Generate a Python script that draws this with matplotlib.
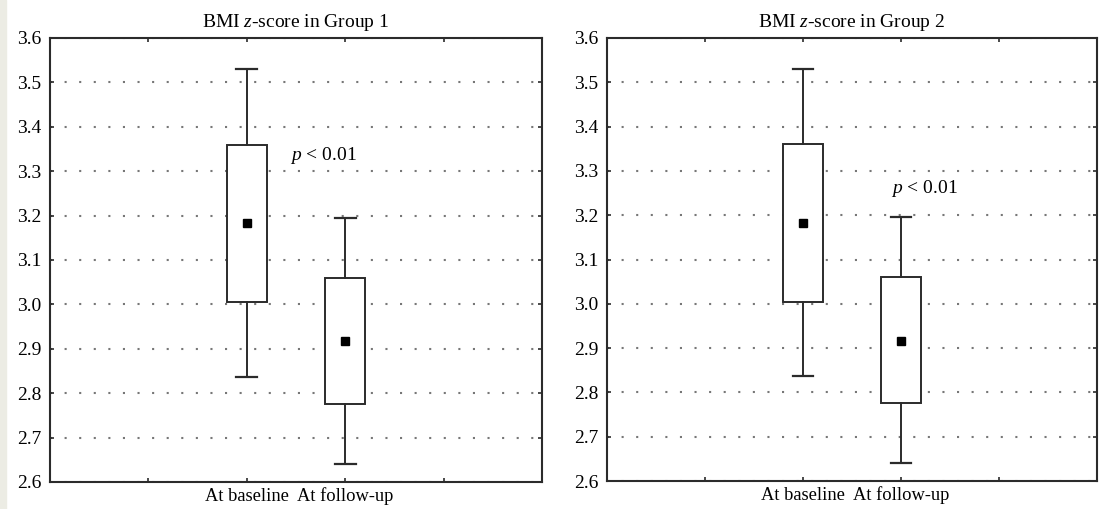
import matplotlib
matplotlib.use("Agg")
import matplotlib.pyplot as plt
from matplotlib.patches import Rectangle

plt.rcParams['font.family'] = ['Liberation Serif', 'DejaVu Serif']
plt.rcParams['mathtext.fontset'] = 'custom'
plt.rcParams['mathtext.rm'] = 'Liberation Serif'
plt.rcParams['mathtext.it'] = 'Liberation Serif:italic'

# data
groups = ["Group 1", "Group 2"]
labels = ["At baseline", "At follow-up"]
means = [[3.183, 2.917], [3.183, 2.917]]
q_low = [[3.005, 2.775], [3.005, 2.775]]
q_high = [[3.36, 3.06], [3.36, 3.06]]
wh_low = [[2.836, 2.64], [2.838, 2.64]]
wh_high = [[3.53, 3.195], [3.53, 3.195]]
p_text = "$p$ < 0.01"
p_pos = [(2.78, 3.335), (3.24, 3.26)]

ink = '#2b2b2b'
fig = plt.figure(figsize=(11.01, 5.09), dpi=100)
fig.patches.append(Rectangle((0, 0), 6 / 1101, 1, transform=fig.transFigure,
                             color='#ecece4', zorder=0))

rects = [[50 / 1101, 27 / 509, 492 / 1101, 444 / 509],
         [607 / 1101, 28 / 509, 490 / 1101, 443 / 509]]

for g in range(2):
    ax = fig.add_axes(rects[g])
    stats = []
    for i in range(2):
        stats.append(dict(med=means[g][i], q1=q_low[g][i], q3=q_high[g][i],
                          whislo=wh_low[g][i], whishi=wh_high[g][i],
                          mean=means[g][i], label=labels[i]))
    ax.bxp(stats, positions=[2, 3], widths=0.41, showmeans=True,
           patch_artist=True, showfliers=False,
           boxprops=dict(facecolor='white', edgecolor=ink, linewidth=1.4),
           whiskerprops=dict(color=ink, linewidth=1.4),
           capprops=dict(color=ink, linewidth=1.6),
           medianprops=dict(linewidth=0),
           meanprops=dict(marker='s', markerfacecolor='black',
                          markeredgecolor='black', markersize=6),
           capwidths=0.21)
    ax.set_xlim(0, 5)
    ax.set_ylim(2.6, 3.6)
    ax.set_xticks([1, 2, 3, 4])
    ax.set_xticklabels(["", labels[0], labels[1], ""], fontsize=13.3)
    ax.set_yticks([2.6 + 0.1 * k for k in range(11)])
    ax.set_yticklabels(["%.1f" % (2.6 + 0.1 * k) for k in range(11)], fontsize=14)
    ax.tick_params(direction='in', top=True, right=True, length=3, width=1.2,
                   color=ink, pad=6)
    ax.tick_params(axis='x', pad=4)
    ax.yaxis.grid(True, linestyle=(0, (1, 6)), color='#777777', linewidth=1.5)
    ax.set_axisbelow(True)
    for s in ax.spines.values():
        s.set_color(ink)
        s.set_linewidth(1.5)
    ax.set_title("BMI $z$-score in " + groups[g], fontsize=14, pad=8)
    ax.text(p_pos[g][0], p_pos[g][1], p_text, fontsize=14, ha='center',
            va='center')

fig.savefig("out.png", dpi=100)
